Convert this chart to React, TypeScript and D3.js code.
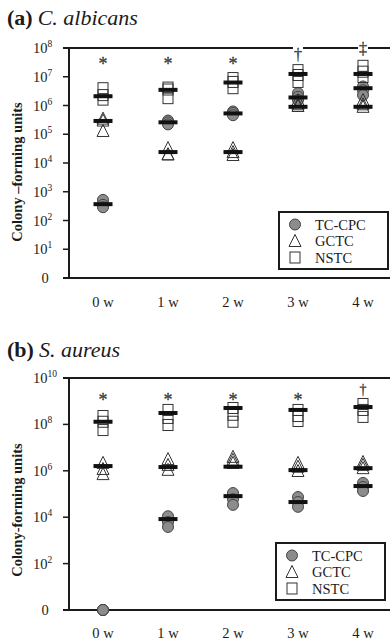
import * as d3 from "d3";

const weeks = ["0 w", "1 w", "2 w", "3 w", "4 w"];

// (a) C. albicans, CFU per replicate and the mean bar
const albTcCpc = [[520, 350, 290], [3.0e5, 2.6e5, 2.2e5], [6.2e5, 5.5e5, 4.6e5], [2.7e6, 2.0e6, 1.55e6], [4.6e6, 3.4e6, 2.3e6]];
const albTcCpcMean = [370, 2.6e5, 5.3e5, 1.9e6, 4.0e6];
const albGctc = [[3.5e5, 3.0e5, 1.3e5], [3.3e4, 2.0e4, 2.0e4], [3.3e4, 2.4e4, 1.9e4], [1.55e6, 1.1e6, 9.6e5], [1.55e6, 1.1e6, 9.0e5]];
const albGctcMean = [2.9e5, 2.4e4, 2.4e4, 9.0e5, 9.0e5];
const albNstc = [[4.0e6, 2.3e6, 1.6e6], [4.2e6, 3.6e6, 1.8e6], [9.0e6, 6.6e6, 4.0e6], [1.7e7, 1.15e7, 6.6e6], [2.4e7, 1.5e7, 9.8e6]];
const albNstcMean = [2.1e6, 3.5e6, 6.3e6, 1.25e7, 1.25e7];
const albNotes = ["*", "*", "*", "\u2020", "\u2021"];
const albTicks = [1, 1e1, 1e2, 1e3, 1e4, 1e5, 1e6, 1e7, 1e8];

// (b) S. aureus
const aurTcCpc = [[0, 0, 0], [1.1e4, 6.2e3, 3.8e3], [1.1e5, 6.0e4, 3.4e4], [7.4e4, 4.5e4, 2.8e4], [3.0e5, 2.0e5, 1.35e5]];
const aurTcCpcMean = [null, 8.3e3, 8.1e4, 4.5e4, 2.2e5];
const aurGctc = [[2.2e6, 1.2e6, 7.2e5], [3.2e6, 1.8e6, 1.1e6], [4.0e6, 3.0e6, 2.2e6], [2.2e6, 1.5e6, 9.8e5], [2.4e6, 1.8e6, 1.3e6]];
const aurGctcMean = [1.6e6, 1.45e6, 1.5e6, 1.07e6, 1.3e6];
const aurNstc = [[2.3e8, 1.3e8, 5.7e7], [4.2e8, 1.9e8, 9.4e7], [5.1e8, 2.6e8, 1.3e8], [4.2e8, 2.3e8, 1.4e8], [7.6e8, 4.2e8, 2.1e8]];
const aurNstcMean = [1.3e8, 3.1e8, 5.1e8, 4.2e8, 5.6e8];
const aurNotes = ["*", "*", "*", "*", "\u2020"];
const aurTicks = [1, 1e2, 1e4, 1e6, 1e8, 1e10];

const legendNames = ["TC-CPC", "GCTC", "NSTC"];

const serif = "'Liberation Serif', 'Times New Roman', serif";
const ink = "#1b1b1b";

const Marker = ({ shape, cx, cy }) => {
    if (shape === "circle")
        return <circle cx={cx} cy={cy} r={5.5} fill="#8c8c8c" stroke="#444" strokeWidth={1} />;
    if (shape === "triangle")
        return (
            <path
                d={`M${cx},${cy - 6.5}L${cx + 6},${cy + 5.5}L${cx - 6},${cy + 5.5}Z`}
                fill="none"
                stroke="#333"
                strokeWidth={1}
            />
        );
    return <rect x={cx - 5} y={cy - 5.5} width={10} height={11} fill="none" stroke="#333" strokeWidth={1} />;
};

const TickLabel = ({ v, x, y }) => {
    if (v === 1)
        return (
            <text x={x + 12} y={y + 5} textAnchor="middle" fontSize={14.5} fontFamily={serif} fill={ink}>
                0
            </text>
        );
    return (
        <text x={x} y={y + 5} fontSize={14.5} fontFamily={serif} fill={ink}>
            10
            <tspan dy={-6} fontSize={9.5}>
                {Math.round(Math.log10(v))}
            </tspan>
        </text>
    );
};

const Panel = ({ label, species, yLabel, series, notes, ticks, lay }) => {
    const x = d3.scalePoint().domain(weeks).range([103, 363]);
    const y = d3.scaleLog().domain([1, ticks[ticks.length - 1]]).range([lay.bottom, lay.top]);
    const yv = (v) => y(Math.max(v, 1));
    const axisX = 69;

    // top frame line, with gaps where a dagger sits on it
    const gaps = notes
        .map((n, i) => (n !== "*" && lay.noteGap ? x(weeks[i]) : null))
        .filter((g) => g !== null);
    const segs = [];
    let start = 63;
    gaps.forEach((g) => {
        segs.push([start, g - 5]);
        start = g + 5;
    });
    segs.push([start, 390]);

    return (
        <g>
            <text x={7} y={lay.titleY} fontFamily={serif} fontSize={22} fill={ink}>
                <tspan fontWeight="bold">({label})</tspan>
                <tspan dx={5} fontStyle="italic">{species}</tspan>
            </text>
            <text
                transform={`translate(${22},${lay.yLabelY}) rotate(-90)`}
                textAnchor="middle"
                fontFamily={serif}
                fontWeight="bold"
                fontSize={14.5}
                fill={ink}
            >
                {yLabel}
            </text>

            {/* axes */}
            <line x1={axisX} x2={axisX} y1={lay.top} y2={lay.bottom} stroke={ink} strokeWidth={2} />
            <line x1={63} x2={390} y1={lay.bottom} y2={lay.bottom} stroke={ink} strokeWidth={2} />
            {segs.map((s, i) => (
                <line key={`top-${i}`} x1={s[0]} x2={s[1]} y1={lay.top} y2={lay.top} stroke={ink} strokeWidth={2} />
            ))}
            {ticks.map((t) => (
                <g key={`tick-${t}`}>
                    <line x1={63} x2={axisX} y1={y(t)} y2={y(t)} stroke={ink} strokeWidth={1.5} />
                    <TickLabel v={t} x={33} y={y(t)} />
                </g>
            ))}
            {weeks.map((w) => (
                <text key={w} x={x(w)} y={lay.xLabelY} textAnchor="middle" fontSize={14.5} fontFamily={serif} fill={ink}>
                    {w}
                </text>
            ))}

            {/* replicates */}
            {series.map((s) =>
                s.values.map((reps, i) =>
                    reps.map((v, j) => (
                        <Marker key={`${s.shape}-${i}-${j}`} shape={s.shape} cx={x(weeks[i])} cy={yv(v)} />
                    ))
                )
            )}
            {/* mean bars */}
            {series.map((s) =>
                s.means.map((m, i) =>
                    m === null ? null : (
                        <rect
                            key={`mean-${s.shape}-${i}`}
                            x={x(weeks[i]) - 9.5}
                            y={yv(m) - 2}
                            width={19}
                            height={4}
                            fill="#111"
                        />
                    )
                )
            )}

            {/* significance marks */}
            {notes.map((n, i) => (
                <text
                    key={`note-${i}`}
                    x={x(weeks[i])}
                    y={n === "*" ? lay.starY : n === "\u2021" ? lay.dagger2Y : lay.daggerY}
                    textAnchor="middle"
                    fontFamily={serif}
                    fontSize={n === "*" ? 18 : lay.daggerSize}
                    fill="#3a3a3a"
                    stroke="#3a3a3a"
                    strokeWidth={0.3}
                >
                    {n}
                </text>
            ))}

            {/* legend */}
            <rect x={lay.legX} y={lay.legY} width={109} height={57} fill="white" stroke={ink} strokeWidth={2} />
            {series.map((s, i) => (
                <g key={`leg-${s.shape}`}>
                    <Marker shape={s.shape} cx={lay.legX + 16} cy={lay.legY + 12.5 + i * 16.5} />
                    <text
                        x={lay.legX + 36}
                        y={lay.legY + 17.5 + i * 16.5}
                        fontFamily={serif}
                        fontSize={14.5}
                        fill={ink}
                    >
                        {legendNames[i]}
                    </text>
                </g>
            ))}
        </g>
    );
};

const App = () => {
    const albSeries = [
        { shape: "circle", values: albTcCpc, means: albTcCpcMean },
        { shape: "triangle", values: albGctc, means: albGctcMean },
        { shape: "square", values: albNstc, means: albNstcMean },
    ];
    const aurSeries = [
        { shape: "circle", values: aurTcCpc, means: aurTcCpcMean },
        { shape: "triangle", values: aurGctc, means: aurGctcMean },
        { shape: "square", values: aurNstc, means: aurNstcMean },
    ];
    return (
        <svg
            width={390}
            height={643}
            style={{ position: "absolute", left: 0, top: 0, background: "white" }}
        >
            <Panel
                label="a"
                species="C. albicans"
                yLabel="Colony –forming units"
                series={albSeries}
                notes={albNotes}
                ticks={albTicks}
                lay={{
                    top: 48,
                    bottom: 278,
                    titleY: 25,
                    yLabelY: 172,
                    xLabelY: 307,
                    starY: 70,
                    daggerY: 60,
                    dagger2Y: 54,
                    daggerSize: 16,
                    noteGap: true,
                    legX: 279,
                    legY: 212,
                }}
            />
            <Panel
                label="b"
                species="S. aureus"
                yLabel="Colony-forming units"
                series={aurSeries}
                notes={aurNotes}
                ticks={aurTicks}
                lay={{
                    top: 378,
                    bottom: 610,
                    titleY: 357,
                    yLabelY: 510,
                    xLabelY: 638,
                    starY: 406,
                    daggerY: 394,
                    dagger2Y: 394,
                    daggerSize: 14,
                    noteGap: false,
                    legX: 276,
                    legY: 543,
                }}
            />
        </svg>
    );
};

export default App;
